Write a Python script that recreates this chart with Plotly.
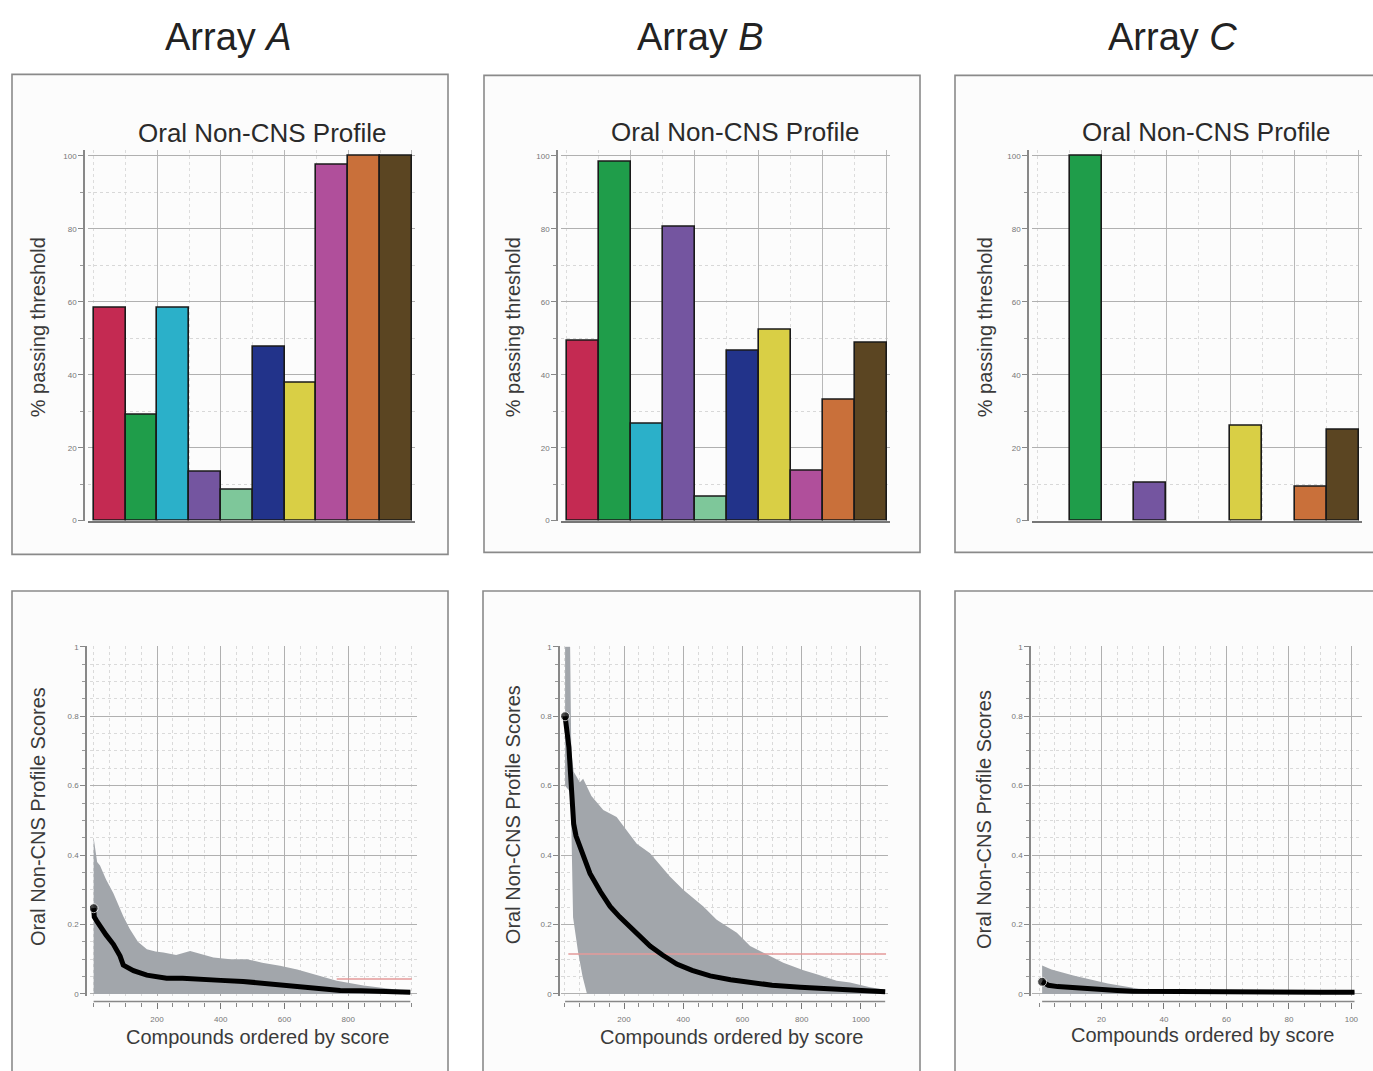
import plotly.graph_objects as go

W, H = 1373, 1071

# ------------------------------------------------------------------ data
array_titles = ["Array <i>A</i>", "Array <i>B</i>", "Array <i>C</i>"]
profile_title = "Oral Non-CNS Profile"
bar_ytitle = "% passing threshold"
score_ytitle = "Oral Non-CNS Profile Scores"
score_xtitle = "Compounds ordered by score"

bar_positions = [0, 1, 2, 3, 4, 5, 6, 7, 8, 9]
bar_colors = ["#c42a52", "#1f9d4a", "#2bb0c9", "#7455a0", "#7ec79a",
              "#22338a", "#d9cf45", "#b04f9b", "#c9703a", "#5b4522"]
pass_A = [58.5, 29, 58.5, 13.4, 8.4, 47.6, 37.9, 97.7, 100, 100]
pass_B = [49.2, 98.4, 26.6, 80.5, 6.6, 46.7, 52.4, 13.6, 33.1, 48.8]
pass_C = [None, 100, None, 10.3, None, None, 26, None, 9.4, 25]
pass_ticks = [0, 20, 40, 60, 80, 100]

# Array A scores (mean curve, upper / lower edges of the grey spread)
mean_A_x = [1, 3, 12, 21, 40, 63, 84, 94, 110, 126, 168, 200, 230, 280, 325,
            400, 470, 534, 600, 660, 722, 775, 840, 900, 960, 995]
mean_A_y = [0.247, 0.222, 0.208, 0.195, 0.170, 0.143, 0.109, 0.083, 0.073,
            0.067, 0.054, 0.048, 0.045, 0.045, 0.044, 0.039, 0.036, 0.030,
            0.026, 0.021, 0.016, 0.010, 0.009, 0.008, 0.006, 0.005]
band_A_x = [1, 5, 12, 21, 40, 63, 94, 115, 140, 168, 195, 220, 260, 304, 340,
            377, 430, 482, 530, 586, 640, 691, 764, 848, 953, 995]
band_A_hi = [0.45, 0.42, 0.38, 0.37, 0.33, 0.29, 0.224, 0.186, 0.15, 0.129,
             0.122, 0.119, 0.112, 0.124, 0.115, 0.105, 0.10, 0.10, 0.09,
             0.081, 0.07, 0.057, 0.038, 0.024, 0.014, 0.008]
band_A_lo_x = [1, 995]
band_A_lo = [0.0, 0.0]
ref_A_x = [764, 1000]
ref_A_y = [0.043, 0.043]

# Array B scores
mean_B_x = [1, 8, 14, 19, 24, 30, 38, 51, 65, 85, 120, 153, 185, 220, 255,
            288, 330, 378, 430, 491, 560, 626, 700, 795, 880, 963, 1030, 1082]
mean_B_y = [0.80, 0.76, 0.71, 0.64, 0.57, 0.49, 0.455, 0.424, 0.39, 0.347,
            0.295, 0.252, 0.222, 0.195, 0.165, 0.138, 0.112, 0.086, 0.068,
            0.052, 0.041, 0.033, 0.025, 0.019, 0.015, 0.012, 0.009, 0.006]
band_B_x = [1, 18, 22, 30, 51, 62, 90, 130, 175, 243, 288, 355, 400, 468, 513,
            581, 626, 693, 738, 806, 851, 918, 963, 1031, 1082]
band_B_hi = [1.0, 1.0, 0.70, 0.64, 0.61, 0.62, 0.57, 0.53, 0.51, 0.433, 0.405,
             0.338, 0.30, 0.252, 0.214, 0.176, 0.138, 0.109, 0.09, 0.068,
             0.057, 0.038, 0.033, 0.019, 0.012]
band_B_lo_x = [1, 20, 25, 28, 45, 60, 75, 1082]
band_B_lo = [0.60, 0.58, 0.35, 0.22, 0.12, 0.05, 0.0, 0.0]
ref_B_x = [12, 1085]
ref_B_y = [0.115, 0.115]

# Array C scores
mean_C_x = [1, 3, 6, 10, 15, 20, 25, 30, 40, 50, 60, 70, 80, 90, 101]
mean_C_y = [0.035, 0.025, 0.021, 0.018, 0.015, 0.012, 0.010, 0.008, 0.007,
            0.007, 0.006, 0.006, 0.005, 0.005, 0.005]
band_C_x = [1, 4, 11, 22, 32, 45, 101]
band_C_hi = [0.082, 0.07, 0.053, 0.03, 0.015, 0.01, 0.008]
band_C_lo_x = [1, 101]
band_C_lo = [0.0, 0.0]
ref_C_x = []
ref_C_y = []

score_yticks = [0, 0.2, 0.4, 0.6, 0.8, 1]
score_yticktext = ["0", "0.2", "0.4", "0.6", "0.8", "1"]
xticks_A = [200, 400, 600, 800]
xticks_B = [200, 400, 600, 800, 1000]
xticks_C = [20, 40, 60, 80, 100]

# ------------------------------------------------------------------ layout helpers
FONT = "Liberation Sans, Arial, Helvetica, sans-serif"


def fx(p):
    return p / W


def fy(p):
    return 1 - p / H


top_plot_x = [(88, 415), (561, 890), (1032, 1362)]
axis_line_x = [84, 557, 1028]
bot_plot_x = [(90, 417), (561, 888), (1032, 1362)]
bot_xrange = [[-10.4, 1016], [-12.8, 1091.6], [-2.24, 103.4]]
bot_minor = [50, 50, 5]
TOP_Y = (147, 521)
BOT_Y = (647.6, 1000.4)
BOT_XAXIS_Y = 1006

fig = go.Figure()

# ------------------------------------------------------------------ bar charts
for i, vals in enumerate([pass_A, pass_B, pass_C]):
    fig.add_trace(go.Bar(
        x=bar_positions, y=vals, width=1.0,
        marker=dict(color=bar_colors, line=dict(color="#1a1a1a", width=1.6)),
        xaxis=f"x{i + 1}", yaxis=f"y{i + 1}", showlegend=False,
    ))

# ------------------------------------------------------------------ score charts
score_sets = [
    (mean_A_x, mean_A_y, band_A_x, band_A_hi, band_A_lo_x, band_A_lo, ref_A_x, ref_A_y),
    (mean_B_x, mean_B_y, band_B_x, band_B_hi, band_B_lo_x, band_B_lo, ref_B_x, ref_B_y),
    (mean_C_x, mean_C_y, band_C_x, band_C_hi, band_C_lo_x, band_C_lo, ref_C_x, ref_C_y),
]
for i, (mx, my, bx, bhi, lx, lo, rx, ry) in enumerate(score_sets):
    xa, ya = f"x{i + 4}", f"y{i + 4}"
    fig.add_trace(go.Scatter(
        x=bx + lx[::-1], y=bhi + lo[::-1], fill="toself", mode="lines",
        fillcolor="#a2a6ab", line=dict(width=0, color="#a2a6ab"),
        xaxis=xa, yaxis=ya, showlegend=False, hoverinfo="skip",
    ))
    if rx:
        fig.add_trace(go.Scatter(
            x=rx, y=ry, mode="lines", line=dict(color="#e59a9a", width=1.3),
            xaxis=xa, yaxis=ya, showlegend=False,
        ))
    fig.add_trace(go.Scatter(
        x=mx, y=my, mode="lines+markers",
        line=dict(color="black", width=5),
        marker=dict(size=[9] + [0] * (len(mx) - 1), color="black"),
        xaxis=xa, yaxis=ya, showlegend=False,
    ))

layout = dict(
    width=W, height=H, margin=dict(l=0, r=0, t=0, b=0),
    paper_bgcolor="white", plot_bgcolor="white",
    font=dict(family=FONT, color="#333"),
    showlegend=False, bargap=0,
)

tick_font = dict(size=8, color="#777", family=FONT)

for i in range(3):
    n = i + 1
    layout[f"xaxis{n}"] = dict(
        domain=[fx(top_plot_x[i][0]), fx(top_plot_x[i][1])],
        range=[-0.68, 9.6], anchor=f"y{n}",
        tickmode="array", tickvals=[1.5, 3.5, 5.5, 7.5, 9.5],
        showticklabels=False, ticks="",
        showgrid=True, gridcolor="#b8b8b8", gridwidth=1,
        minor=dict(tickmode="array", tickvals=[-0.5, 0.5, 2.5, 4.5, 6.5, 8.5],
                   showgrid=True, gridcolor="#dcdcdc", griddash="dot", ticks=""),
        showline=True, linecolor="#777", linewidth=1.5, zeroline=False,
        fixedrange=True,
    )
    layout[f"yaxis{n}"] = dict(
        domain=[fy(TOP_Y[1]), fy(TOP_Y[0])],
        range=[0, 101.7], anchor="free", position=fx(axis_line_x[i]),
        tickmode="array", tickvals=pass_ticks,
        ticktext=[str(t) for t in pass_ticks], tickfont=tick_font,
        ticks="outside", ticklen=5, tickcolor="#888",
        showline=True, linecolor="#888", linewidth=1.5,
        showgrid=True, gridcolor="#b0b0b0", gridwidth=1.2,
        minor=dict(tickmode="array", tickvals=[10, 30, 50, 70, 90],
                   showgrid=True, gridcolor="#d8d8d8", griddash="dot",
                   ticks="outside", ticklen=3, tickcolor="#999"),
        zeroline=False, fixedrange=True,
    )

xticks_all = [xticks_A, xticks_B, xticks_C]
for i in range(3):
    n = i + 4
    layout[f"xaxis{n}"] = dict(
        domain=[fx(bot_plot_x[i][0]), fx(bot_plot_x[i][1])],
        range=bot_xrange[i], anchor="free", position=fy(BOT_XAXIS_Y),
        tickmode="array", tickvals=xticks_all[i],
        ticktext=[str(t) for t in xticks_all[i]], tickfont=tick_font,
        ticks="outside", ticklen=6, tickcolor="#777", ticklabelstandoff=4,
        showline=False, showgrid=True, gridcolor="#b0b0b0", gridwidth=1.2,
        minor=dict(tick0=0, dtick=bot_minor[i], showgrid=True,
                   gridcolor="#dadada", griddash="dot",
                   ticks="outside", ticklen=4, tickcolor="#888"),
        zeroline=False, fixedrange=True,
    )
    layout[f"yaxis{n}"] = dict(
        domain=[fy(BOT_Y[1]), fy(BOT_Y[0])],
        range=[-0.006, 1.002], anchor="free", position=fx(axis_line_x[i] + 2),
        tickmode="array", tickvals=score_yticks, ticktext=score_yticktext,
        tickfont=tick_font, ticks="outside", ticklen=5, tickcolor="#888",
        showline=True, linecolor="#888", linewidth=1.5,
        showgrid=True, gridcolor="#b0b0b0", gridwidth=1.2,
        minor=dict(dtick=0.05, tick0=0, showgrid=True, gridcolor="#dadada",
                   griddash="dot", ticks="outside", ticklen=3, tickcolor="#999"),
        zeroline=False, fixedrange=True,
    )

# panel frames
shapes = []
top_boxes = [(12, 71, 448, 555), (484, 72, 920, 553), (955, 72, 1385, 553)]
bot_boxes = [(12, 592, 448, 1090), (483, 592, 920, 1090), (955, 592, 1385, 1090)]
for (x0, y0, x1, y1) in top_boxes + bot_boxes:
    shapes.append(dict(type="rect", xref="paper", yref="paper",
                       x0=fx(x0), x1=fx(x1), y0=fy(y1), y1=fy(y0),
                       line=dict(color="#8a8a8a", width=1.6),
                       fillcolor="#fcfcfc", layer="below"))
# detached x-axis lines under the score charts
for i, (mx, *_rest) in enumerate(score_sets):
    shapes.append(dict(type="line", xref=f"x{i + 4}", yref="paper",
                       x0=mx[0], x1=mx[-1], y0=fy(BOT_XAXIS_Y), y1=fy(BOT_XAXIS_Y),
                       line=dict(color="#888", width=1.5)))
layout["shapes"] = shapes

# text
ann = []


def add_text(text, px, py, size, color, angle=0):
    ann.append(dict(text=text, x=fx(px), y=fy(py), xref="paper", yref="paper",
                    xanchor="center", yanchor="middle", showarrow=False,
                    textangle=angle, font=dict(size=size, color=color, family=FONT)))


for t, (px, py) in zip(array_titles, [(228, 33), (700, 33), (1172, 33)]):
    add_text(t, px, py, 38, "#222")
for px, py in [(262, 130), (735, 129), (1206, 129)]:
    add_text(profile_title, px, py, 26, "#2a2a2a")
for px, py in [(38, 326), (513, 326), (985, 326)]:
    add_text(bar_ytitle, px, py, 20, "#3a3a3a", -90)
for px, py in [(38, 820), (513, 818), (984, 823)]:
    add_text(score_ytitle, px, py, 20, "#3a3a3a", -90)
for px, py in [(257, 1042), (731, 1042), (1202, 1040)]:
    add_text(score_xtitle, px, py, 20, "#3a3a3a")
layout["annotations"] = ann

fig.update_layout(**layout)
fig.write_html(
    "out.html",
    config={"displayModeBar": False},
    post_script="document.body.style.margin='0';document.body.style.overflow='hidden';",
)
